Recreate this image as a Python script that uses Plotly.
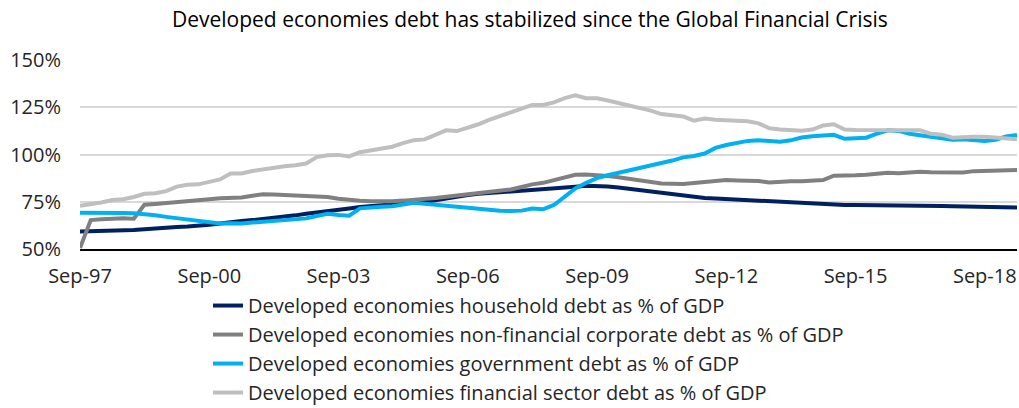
import pandas as pd
import plotly.graph_objects as go

dates = pd.date_range("1997-09-01", periods=88, freq="3MS")

household = [59.2, 59.3, 59.5, 59.7, 59.9, 60.1, 60.5, 61.0, 61.3, 61.6, 61.9, 62.2, 62.8, 63.5, 64.3, 64.8,
             65.3, 65.8, 66.3, 67.0, 67.8, 68.6, 69.4, 70.3, 70.8, 71.4, 72.2, 72.6, 73.0, 73.4, 73.8, 74.2,
             75.0, 75.8, 76.8, 77.8, 78.6, 79.2, 79.6, 80.0, 80.3, 80.7, 81.0, 81.2, 81.6, 82.3, 82.9, 83.4,
             83.5, 83.1, 82.5, 81.8, 81.0, 80.4, 80.0, 79.4, 78.6, 77.8, 77.0, 76.7, 76.4, 76.1, 75.8, 75.5,
             75.1, 74.7, 74.3, 74.0, 73.8, 73.6, 73.4, 73.3, 73.3, 73.3, 73.3, 73.2, 73.1, 73.0, 73.0, 72.9,
             72.8, 72.6, 72.4, 72.2, 72.0, 71.9, 71.9, 71.9]

corporate = [50.5, 65.3, 65.8, 66.2, 66.3, 66.0, 73.4, 73.8, 74.2, 74.8, 75.2, 75.4, 76.3, 76.8, 77.1, 77.3,
             78.2, 79.0, 78.8, 78.6, 78.5, 78.4, 77.9, 77.5, 76.6, 75.9, 75.5, 75.2, 75.0, 75.3, 75.6, 75.9,
             76.4, 77.0, 77.7, 78.4, 79.2, 79.6, 80.2, 80.8, 81.5, 82.8, 84.2, 85.0, 86.5, 88.2, 89.3, 89.4,
             89.2, 88.6, 88.0, 87.2, 86.2, 85.3, 84.7, 84.5, 84.4, 84.9, 85.5, 86.0, 86.5, 86.3, 86.1, 86.0,
             85.2, 85.6, 85.8, 85.8, 86.2, 86.5, 88.8, 88.7, 89.0, 89.3, 89.8, 90.3, 90.1, 90.6, 90.9, 90.6,
             90.4, 90.4, 90.5, 91.2, 91.3, 91.4, 91.5, 91.8]

government = [69.2, 69.3, 69.4, 69.4, 69.1, 68.9, 68.5, 67.8, 67.0, 66.2, 65.5, 64.6, 63.8, 63.5, 63.6, 63.5,
              64.0, 64.4, 64.7, 65.0, 65.8, 66.2, 67.5, 68.6, 68.0, 67.6, 71.5, 72.2, 72.4, 72.6, 73.5, 74.5,
              74.0, 73.5, 72.5, 72.0, 71.8, 71.5, 70.8, 70.2, 70.1, 70.3, 71.4, 71.0, 73.3, 77.5, 82.0, 85.0,
              87.5, 89.0, 90.2, 91.8, 93.0, 94.2, 95.2, 96.8, 98.5, 99.2, 100.5, 103.5, 105.0, 106.2, 107.2, 107.5,
              107.0, 106.8, 107.5, 109.0, 109.6, 110.0, 110.4, 108.3, 108.5, 108.9, 111.0, 112.8, 112.5, 111.0, 110.2, 109.5,
              108.7, 107.8, 108.0, 107.5, 107.1, 107.8, 109.5, 110.3]

financial = [72.9, 73.5, 74.6, 75.9, 76.3, 77.5, 79.2, 79.5, 80.6, 83.0, 84.0, 84.2, 85.5, 86.8, 90.0, 90.0,
             91.3, 92.2, 93.2, 93.8, 94.3, 95.2, 98.6, 99.6, 99.8, 99.0, 101.2, 102.0, 102.8, 104.1, 106.0, 107.6,
             108.0, 110.6, 112.8, 112.4, 114.0, 116.0, 118.3, 120.3, 122.4, 124.4, 126.2, 126.2, 127.6, 129.8, 131.3, 129.8,
             129.7, 128.6, 127.3, 125.6, 124.3, 123.2, 121.4, 121.0, 120.1, 117.9, 119.0, 118.4, 118.3, 118.2, 117.6, 116.5,
             113.9, 113.2, 112.8, 112.6, 113.2, 115.4, 116.0, 113.2, 113.0, 113.0, 113.0, 113.1, 113.2, 113.0, 112.8, 111.0,
             110.5, 108.9, 109.3, 109.4, 109.4, 108.8, 108.4, 108.0]

names = ["Developed economies household debt as % of GDP",
         "Developed economies non-financial corporate debt as % of GDP",
         "Developed economies government debt as % of GDP",
         "Developed economies financial sector debt as % of GDP"]
colors = ["#002060", "#808080", "#00B0F0", "#BFBFBF"]
series = [household, corporate, government, financial]

tick_dates = pd.date_range("1997-09-01", "2018-09-01", freq="36MS")
tick_text = [d.strftime("%b-%y") for d in tick_dates]
y_ticks = [50, 75, 100, 125, 150]

FONT = "Open Sans"

fig = go.Figure()
for n, c, s in zip(names, colors, series):
    fig.add_trace(go.Scatter(x=dates, y=s, name=n, mode="lines",
                             line=dict(color=c, width=4)))

fig.update_layout(
    width=1019, height=408,
    margin=dict(l=80, r=2, t=60, b=159, autoexpand=False),
    paper_bgcolor="white", plot_bgcolor="white",
    font=dict(family=FONT, size=20, color="#262626"),
    title=dict(text="Developed economies debt has stabilized since the Global Financial Crisis",
               x=0.52, xref="container", xanchor="center", y=0.952, yref="container", yanchor="middle",
               font=dict(family=FONT, size=21, color="#000000")),
    showlegend=True,
    legend=dict(orientation="v", x=0.1366, xanchor="left", y=-0.196, yanchor="top",
                font=dict(family=FONT, size=20, color="#262626"),
                tracegroupgap=0, bgcolor="rgba(0,0,0,0)"),
    xaxis=dict(type="date", range=[dates[0], dates[-1]],
               tickvals=tick_dates, ticktext=tick_text,
               showgrid=False, showline=True, linecolor="#000000", linewidth=1.5,
               ticks="", ticklabelstandoff=8,
               tickfont=dict(family=FONT, size=20, color="#262626")),
    yaxis=dict(range=[50, 150], tickvals=y_ticks, ticktext=[f"{v}%" for v in y_ticks],
               showgrid=True, gridcolor="#D9D9D9", gridwidth=1.5, zeroline=False,
               showline=False, ticks="", ticklabelstandoff=18,
               tickfont=dict(family=FONT, size=20, color="#262626")),
)

fig.write_html("out.html")
